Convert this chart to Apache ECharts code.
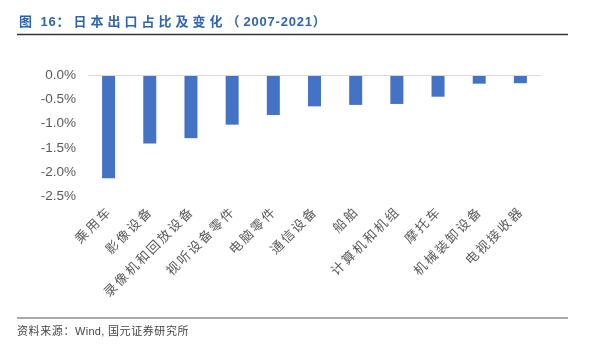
<!DOCTYPE html>
<html><head><meta charset="utf-8">
<script src="https://cdn.jsdelivr.net/npm/echarts@6/dist/echarts.min.js"></script>
<style>html,body{margin:0;padding:0;background:#fff;}#c{width:589px;height:344px;}</style>
</head><body><div id="c"></div>
<script>
var categories = ['乘用车','影像设备','录像机和回放设备','视听设备零件','电脑零件','通信设备','船舶','计算机和机组','摩托车','机械装卸设备','电视接收器'];
var values = [-2.13, -1.41, -1.30, -1.02, -0.82, -0.64, -0.61, -0.59, -0.44, -0.17, -0.16];
var titleText = '图 16：日本出口占比及变化（2007-2021）';
var sourceText = '资料来源：Wind, 国元证券研究所';
var FONT = '"Liberation Sans","Noto Sans CJK SC",sans-serif';

var ctx = document.createElement('canvas').getContext('2d');
function spacedText(str, x, yMid, font, color, cjkGap, asciiGap) {
  ctx.font = font;
  var els = [];
  var cx = x;
  for (var i = 0; i < str.length; i++) {
    var ch = str[i];
    var isCjk = ch.charCodeAt(0) > 255;
    els.push({type: 'text', x: cx, y: yMid,
      style: {text: ch, fill: color, font: font, textVerticalAlign: 'middle', verticalAlign: 'middle'}});
    cx += ctx.measureText(ch).width + (isCjk ? cjkGap : asciiGap);
  }
  return els;
}

var graphics = [];
graphics = graphics.concat(spacedText(titleText, 19, 22, 'bold 13px ' + FONT, '#2F65B0', 4, 0.8));
graphics.push({type: 'line', shape: {x1: 17, y1: 34.5, x2: 568, y2: 34.5}, style: {stroke: '#333', lineWidth: 1.5}});
graphics.push({type: 'line', shape: {x1: 17, y1: 318, x2: 568, y2: 318}, style: {stroke: '#555', lineWidth: 1.2}});
graphics = graphics.concat(spacedText(sourceText, 17, 332, '11px ' + FONT, '#444', 0.6, 0.3));

var chart = echarts.init(document.getElementById('c'));
chart.setOption({
  animation: false,
  backgroundColor: '#fff',
  grid: {left: 88, right: 48, top: 75.5, bottom: 148},
  xAxis: {
    type: 'category', data: categories,
    axisLine: {show: false, onZero: false}, axisTick: {show: false},
    axisLabel: {rotate: 45, interval: 0, margin: 15, color: '#5a5a5a', fontSize: 13, fontFamily: FONT,
      formatter: function(v){ return v.split('').join('\u2006'); }}
  },
  yAxis: {
    type: 'value', min: -2.5, max: 0, interval: 0.5,
    axisLine: {show: false}, axisTick: {show: false}, splitLine: {show: false},
    axisLabel: {margin: 12, color: '#595959', fontSize: 13.5, fontFamily: FONT,
      formatter: function(v){ return v.toFixed(1) + '%'; }}
  },
  series: [{
    type: 'bar', data: values, barWidth: 13,
    itemStyle: {color: '#4472C4'},
    markLine: {silent: true, symbol: 'none', label: {show: false},
      lineStyle: {color: '#d9d9d9', width: 1, type: 'solid'},
      data: [{yAxis: 0}]}
  }],
  graphic: graphics
});
</script></body></html>
